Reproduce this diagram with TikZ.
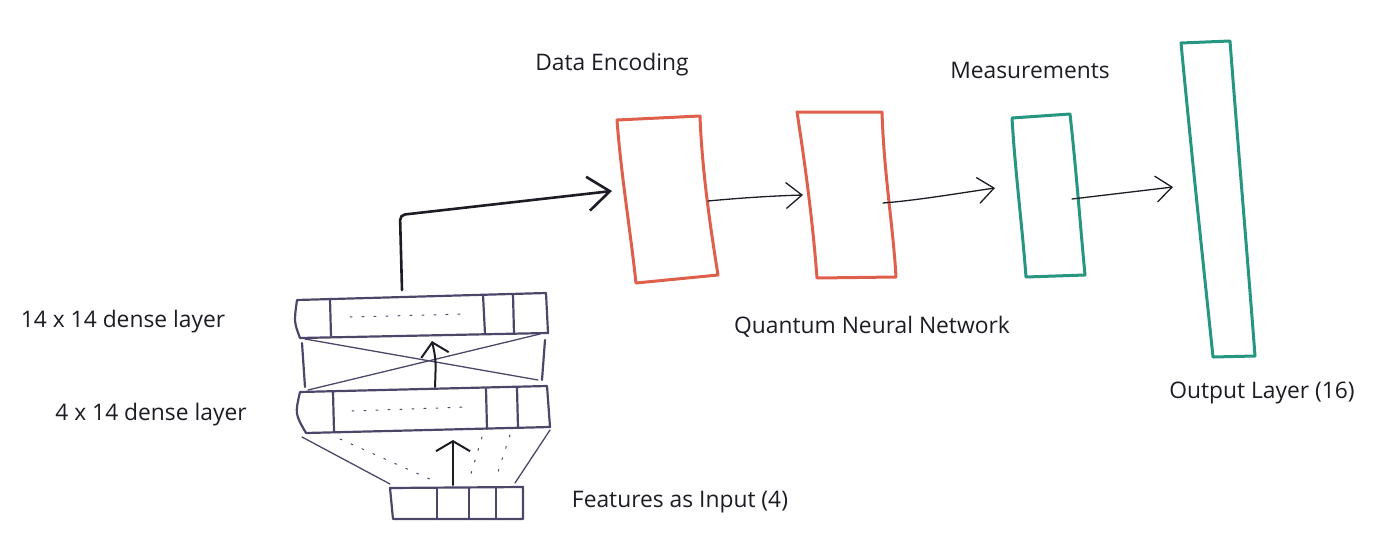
\documentclass[tikz,border=0pt]{standalone}
\usepackage{fontspec}
\setmainfont{Open Sans}
\usetikzlibrary{arrows.meta}
\definecolor{redbox}{RGB}{222,96,76}
\definecolor{tealbox}{RGB}{38,150,128}
\definecolor{stackc}{RGB}{78,70,104}
\definecolor{ink}{RGB}{28,28,36}
\begin{document}
\begin{tikzpicture}[x=1pt,y=-1pt,
  redshape/.style={draw=redbox,line width=3pt,line join=round,line cap=round},
  tealshape/.style={draw=tealbox,line width=3pt,line join=round,line cap=round},
  layer/.style={draw=stackc,line width=2.2pt,line cap=round,line join=round},
  thinline/.style={draw=stackc,line width=1.3pt,line cap=round},
  dots/.style={draw=stackc,line width=1pt,dash pattern=on 2pt off 10pt,line cap=round},
  flow/.style={draw=ink,line width=1.3pt,line cap=round,line join=round,-{Straight Barb[length=16pt,width=26pt]}},
  upflow/.style={draw=ink,line width=2pt,line cap=round,line join=round},
  lbl/.style={font=\fontsize{22.8}{27}\selectfont,text=ink,inner sep=0pt,anchor=base}
]
\useasboundingbox (0,0) rectangle (1400,549);

% ---- corner coordinates ----
\coordinate (de-tl) at (617,120); \coordinate (de-tr) at (700,116);
\coordinate (de-br) at (718,275); \coordinate (de-bl) at (636,283);
\coordinate (qn-tl) at (797,112); \coordinate (qn-tr) at (882,112);
\coordinate (qn-br) at (896,277); \coordinate (qn-bl) at (817,278);
\coordinate (me-tl) at (1012,118); \coordinate (me-tr) at (1070,114);
\coordinate (me-br) at (1085,275); \coordinate (me-bl) at (1026,277);
\coordinate (ou-tl) at (1181,43); \coordinate (ou-tr) at (1230,41);
\coordinate (ou-br) at (1255,356); \coordinate (ou-bl) at (1213,357);

% ---- boxes ----
\draw[redshape] (de-tl) -- (de-tr) .. controls (702,170) and (710,225) .. (de-br) -- (de-bl) .. controls (630,228) and (621,174) .. cycle;
\draw[redshape] (qn-tl) -- (qn-tr) .. controls (884,175) and (893,225) .. (qn-br) -- (qn-bl) .. controls (813,225) and (806,170) .. cycle;
\draw[tealshape] (me-tl) -- (me-tr) .. controls (1076,168) and (1080,222) .. (me-br) -- (me-bl) .. controls (1022,224) and (1015,170) .. cycle;
\draw[tealshape] (ou-tl) -- (ou-tr) .. controls (1238,146) and (1247,251) .. (ou-br) -- (ou-bl) .. controls (1202,252) and (1191,148) .. cycle;

% ---- left stack: 14x14 layer ----
\draw[layer] (297,300) -- (546,293) -- (548,333) -- (300,338) .. controls (294,322) .. (297,300) -- cycle;
\draw[layer] (330,299) -- (331,336) (483,295) -- (485,334) (513,294) -- (514,334);
\draw[dots] (350,317) -- (466,314);
% crossing connections
\draw[thinline] (305,339) -- (538,380);
\draw[thinline] (540,334) -- (308,390);
\draw[layer] (302,343) -- (305,387);
\draw[layer] (545,340) -- (542,380);
% ---- 4x14 layer ----
\draw[layer] (300,392) -- (547,386) -- (550,427) -- (306,433) .. controls (295,414) .. (300,392) -- cycle;
\draw[layer] (333,392) -- (334,431) (486,389) -- (487,429) (517,388) -- (518,428);
\draw[dots] (352,411) -- (467,407);
% input fan-in
\draw[thinline] (302,437) -- (390,484);
\draw[thinline] (550,430) -- (515,483);
\draw[dots] (340,439) -- (432,480);
\draw[dots] (482,437) -- (470,477);
\draw[dots] (510,435) -- (497,475);
% ---- input box ----
\draw[layer] (390,488) -- (523,487) -- (523,519) -- (393,519) -- cycle;
\draw[layer] (437,488) -- (437,519) (469,488) -- (469,519) (496,488) -- (496,519);

% ---- connector coordinates ----
\coordinate (in-top) at (453,485); \coordinate (l2-bot) at (453,440);
\coordinate (l2-top) at (435,387); \coordinate (l1-bot) at (432,341);
\coordinate (l1-top) at (402,290); \coordinate (bend) at (400,215);
\coordinate (de-in) at (612,191); \coordinate (de-out) at (708,201);
\coordinate (qn-in) at (803,195); \coordinate (qn-out) at (883,203);
\coordinate (me-in) at (995,188); \coordinate (me-out) at (1072,199);
\coordinate (ou-in) at (1173,187);

% ---- connectors ----
\draw[upflow,-{Straight Barb[length=10pt,width=34pt]}] (in-top) -- (l2-bot);
\draw[upflow,-{Straight Barb[length=13pt,width=28pt]}] (l2-top) .. controls (436,360) .. (l1-bot);
\draw[draw=ink,line width=2.6pt,line cap=round,rounded corners=5pt,-{Straight Barb[length=22pt,width=34pt]}] (l1-top) -- (bend) -- (de-in);
\draw[flow] (de-out) .. controls (740,198) and (770,196) .. (qn-in);
\draw[flow] (qn-out) .. controls (920,200) and (960,193) .. (me-in);
\draw[flow] (me-out) -- (ou-in);

% ---- labels ----
\node[lbl] (t-de) at (612,70) {Data Encoding};
\node[lbl] (t-me) at (1030,78) {Measurements};
\node[lbl] (t-qn) at (872,333) {Quantum Neural Network};
\node[lbl] (t-ou) at (1262,398) {Output Layer (16)};
\node[lbl] (t-l1) at (123,327) {14 x 14 dense layer};
\node[lbl] (t-l2) at (151,420) {4 x 14 dense layer};
\node[lbl] (t-in) at (680,507) {Features as Input (4)};
\end{tikzpicture}
\end{document}
